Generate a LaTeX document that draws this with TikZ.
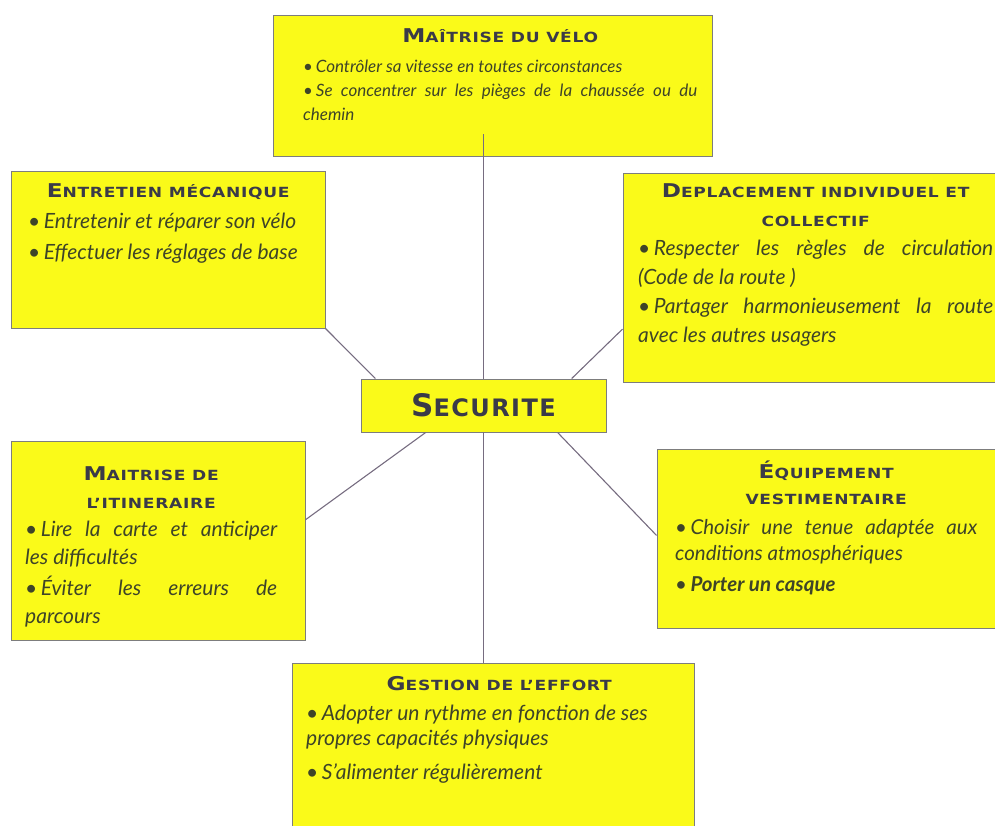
\documentclass[tikz,border=0pt]{standalone}
\usepackage{fontspec}
\setmainfont{Lato}
\newfontfamily\headfont{DejaVu Sans}[FakeStretch=1.22, LetterSpace=5]
\newfontfamily\secfont{DejaVu Sans}[LetterSpace=6]
\usetikzlibrary{positioning}

\definecolor{cardfill}{RGB}{250,250,25}
\definecolor{cardline}{RGB}{125,125,125}
\definecolor{inkhead}{RGB}{58,58,72}
\definecolor{inkbody}{RGB}{62,68,40}
\definecolor{linkgray}{RGB}{118,108,128}

\newcommand\headtxt[2]{{\color{inkhead}\headfont\upshape\bfseries{\fontsize{19}{27}\selectfont#1}\fontsize{14}{27}\selectfont#2}}
\newcommand\bul{{\upshape\textbullet}\,}

\tikzset{
  card/.style={draw=cardline, fill=cardfill, line width=0.9pt, inner sep=0pt},
  txt/.style={inner sep=0pt, anchor=north west, align=justify, text=inkbody},
  link/.style={draw=linkgray, line width=1.1pt},
}

\begin{document}
\begin{tikzpicture}[x=1pt,y=-1pt]
	\useasboundingbox (0,0) rectangle (995,826);
	
	% cards
	\node[card, minimum width=439pt, minimum height=141pt] (velo) at (492.5,85.5) {};
	\node[card, minimum width=314pt, minimum height=157pt] (entretien) at (168,249.5) {};
	\node[card, minimum width=384pt, minimum height=209pt] (deplacement) at (815,277.5) {};
	\node[card, minimum width=294pt, minimum height=199pt] (itineraire) at (158,540.5) {};
	\node[card, minimum width=350pt, minimum height=179pt] (equipement) at (832,538.5) {};
	\node[card, minimum width=402pt, minimum height=172pt] (effort) at (493,749) {};
	\node[card, minimum width=245pt, minimum height=53pt] (sec) at (483.5,405.5)
		{\color{inkhead}\secfont\bfseries{\fontsize{31}{31}\selectfont S}\fontsize{24}{24}\selectfont ECURITE};
	
	% links
	\draw[link] (sec.north) -- ([yshift=22pt]sec.north |- velo.south);
	\draw[link] (sec.south) -- (sec.south |- effort.north);
	\draw[link] (sec.166) -- (entretien.south east);
	\draw[link] (sec.17) -- (deplacement.195);
	\draw[link] (sec.205) -- (itineraire.8);
	\draw[link] (sec.-20) -- (equipement.179);
	
	% texts
	\node[txt, text width=394pt, font=\itshape\fontsize{17}{24}\selectfont] (veloTxt) at (303,28) {%
		{\centering\headtxt{M}{AÎTRISE DU VÉLO}\par}\vspace{6pt}
		\bul Contrôler sa vitesse en toutes circonstances\par
		\bul Se concentrer sur les pièges de la chaussée ou du\linebreak chemin\par};
	\node[txt, text width=280pt, font=\itshape\fontsize{21}{31}\selectfont] (entretienTxt) at (28,183) {%
		{\centering\headtxt{E}{NTRETIEN MÉCANIQUE}\par}
		\bul Entretenir et réparer son vélo\par
		\bul Effectuer les réglages de base\par};
	\node[txt, text width=355pt, font=\itshape\fontsize{21}{29}\selectfont] (deplacementTxt) at (638,183) {%
		{\centering\headtxt{D}{EPLACEMENT INDIVIDUEL ET\\COLLECTIF}\par}
		\bul Respecter les règles de circulation\linebreak (Code de la route )\par
		\bul Partager harmonieusement la route\linebreak avec les autres usagers\par};
	\node[txt, text width=252pt, font=\itshape\fontsize{21}{28}\selectfont] (itineraireTxt) at (25,466) {%
		{\centering\headtxt{M}{AITRISE DE\\L’ITINERAIRE}\par}
		\bul Lire la carte et anticiper\linebreak les difficultés\par\vspace{3pt}
		\bul Éviter les erreurs de\linebreak parcours\par};
	\node[txt, text width=302pt, font=\itshape\fontsize{20.5}{26}\selectfont] (equipementTxt) at (675,461) {%
		{\centering\headtxt{É}{QUIPEMENT\\VESTIMENTAIRE}\par}\vspace{4pt}
		\bul Choisir une tenue adaptée aux\linebreak conditions atmosphériques\par\vspace{5pt}
		\bul\textbf{Porter un casque}\par};
	\node[txt, text width=386pt, font=\itshape\fontsize{21}{25}\selectfont] (effortTxt) at (306,676) {%
		{\centering\headtxt{G}{ESTION DE L’EFFORT}\par}\vspace{5pt}
		\bul Adopter un rythme en fonction de ses\newline propres capacités physiques\par\vspace{9pt}
		\bul S’alimenter régulièrement\par};
\end{tikzpicture}
\end{document}
